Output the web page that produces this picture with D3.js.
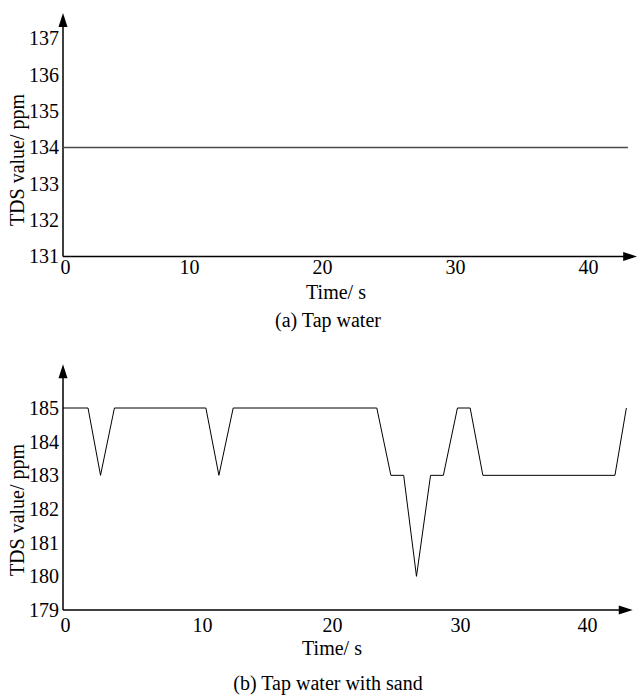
<!DOCTYPE html>
<html>
<head>
<meta charset="utf-8">
<script src="https://cdn.jsdelivr.net/npm/d3@7"></script>
<style>
    body { margin: 0; background: #fff; }
    text { font-family: "Liberation Serif", "Times New Roman", serif; fill: #000; }
</style>
</head>
<body>
<svg id="chart" width="637" height="697"></svg>
<script>
/** Chart data **/
var timeTicks = [0, 10, 20, 30, 40];

var tapTime = [0, 43];
var tapTds  = [134, 134];
var tapTicksY = [131, 132, 133, 134, 135, 136, 137];

var sandTime = [0, 1.8, 2.7, 3.7, 10.3, 11.3, 12.4, 23.5, 24.6, 25.6,
                26.6, 27.7, 28.7, 29.8, 30.8, 31.8, 42.2, 43.1];
var sandTds  = [185, 185, 183, 185, 185, 183, 185, 185, 183, 183,
                180, 183, 183, 185, 185, 183, 183, 185];
var sandTicksY = [179, 180, 181, 182, 183, 184, 185];

var xLabel = "Time/ s";
var yLabel = "TDS value/ ppm";


/**
 * Draws one panel: axes with arrows, tick labels, titles and the line.
 */
function drawPanel(svg, p)
{
    var g = svg.append("g");

    // x positions of the printed tick labels are not evenly spaced,
    // so the scale is calibrated on each of them.
    var xScale = d3.scaleLinear()
        .domain(timeTicks)
        .range(p.xTickPx);

    var yScale = d3.scaleLinear()
        .domain([p.yTicks[0], p.yTicks[p.yTicks.length - 1]])
        .range([p.yBottom, p.yTop]);

    var x0 = xScale(0);
    var y0 = yScale(p.yTicks[0]);
    var xEnd = xScale(p.xMax);
    var yEnd = yScale(p.yMax);

    var yAxis = d3.axisLeft(yScale)
        .tickValues(p.yTicks)
        .tickFormat(d3.format("d"))
        .tickSize(0)
        .tickPadding(4);

    var xAxis = d3.axisBottom(xScale)
        .tickValues(timeTicks)
        .tickFormat(d3.format("d"))
        .tickSize(0)
        .tickPadding(p.xPad);

    var gy = g.append("g")
        .attr("transform", "translate(" + x0 + ",0)")
        .call(yAxis);
    var gx = g.append("g")
        .attr("transform", "translate(0," + y0 + ")")
        .call(xAxis);

    [gx, gy].forEach(function(a) {
        a.select(".domain").remove();
        a.selectAll("text")
            .style("font-family", "Liberation Serif")
            .style("font-size", "20px")
            .attr("fill", "#000");
    });
    // first tick label sits just right of the origin
    gx.selectAll(".tick text").filter(function(d) { return d === 0; })
        .attr("x", 2);

    // axis lines
    g.append("line")
        .attr("x1", x0).attr("y1", y0)
        .attr("x2", xEnd - 8).attr("y2", y0)
        .attr("stroke", "#000").attr("stroke-width", 1.5);
    g.append("line")
        .attr("x1", x0).attr("y1", y0)
        .attr("x2", x0).attr("y2", yEnd + 8)
        .attr("stroke", "#000").attr("stroke-width", 1.5);

    // arrow heads
    g.append("path")
        .attr("d", "M" + xEnd + "," + y0 + "L" + (xEnd - 14) + "," + (y0 - 4.5) +
            "L" + (xEnd - 14) + "," + (y0 + 4.5) + "Z")
        .attr("fill", "#000");
    g.append("path")
        .attr("d", "M" + x0 + "," + yEnd + "L" + (x0 - 4.5) + "," + (yEnd + 14) +
            "L" + (x0 + 4.5) + "," + (yEnd + 14) + "Z")
        .attr("fill", "#000");

    // data line
    var pts = p.time.map(function(t, i) { return [t, p.tds[i]]; });
    var line = d3.line()
        .x(function(d) { return xScale(d[0]); })
        .y(function(d) { return yScale(d[1]); });

    g.append("path")
        .datum(pts)
        .attr("d", line)
        .attr("fill", "none")
        .attr("stroke", p.lineColor)
        .attr("stroke-width", p.lineWidth)
        .attr("stroke-linejoin", "miter");

    // titles
    g.append("text")
        .attr("x", p.xLabelPos[0]).attr("y", p.xLabelPos[1])
        .attr("text-anchor", "middle")
        .style("font-size", "20px")
        .text(xLabel);

    g.append("text")
        .attr("transform", "translate(" + 24 + "," + p.yLabelMid + ") rotate(-90)")
        .attr("text-anchor", "middle")
        .style("font-size", "20px")
        .text(yLabel);

    g.append("text")
        .attr("x", 328).attr("y", p.captionY)
        .attr("text-anchor", "middle")
        .style("font-size", "20px")
        .text(p.caption);
}


var svg = d3.select("#chart");

drawPanel(svg, {
    time: tapTime, tds: tapTds, yTicks: tapTicksY,
    xTickPx: [63, 189, 322, 455, 588], xMax: 43.7,
    yBottom: 256.5, yTop: 38.5, yMax: 137.7,
    xPad: 3, lineColor: "#4a4a4a", lineWidth: 1.7,
    xLabelPos: [336, 299], yLabelMid: 160,
    captionY: 327, caption: "(a) Tap water"
});

drawPanel(svg, {
    time: sandTime, tds: sandTds, yTicks: sandTicksY,
    xTickPx: [63, 202, 332, 460, 587], xMax: 43.6,
    yBottom: 610, yTop: 408, yMax: 186.3,
    xPad: 8, lineColor: "#000", lineWidth: 1,
    xLabelPos: [332, 655], yLabelMid: 510,
    captionY: 690, caption: "(b) Tap water with sand"
});
</script>
</body>
</html>
